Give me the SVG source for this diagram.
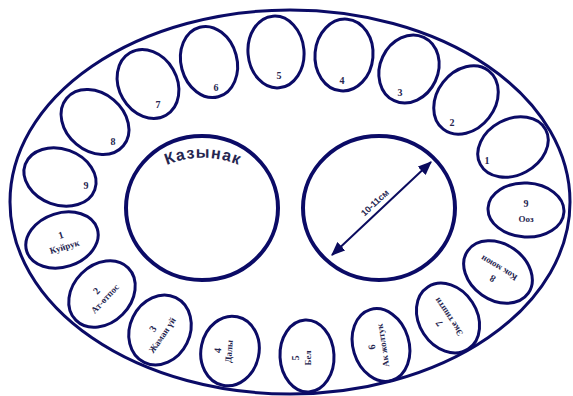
<svg xmlns="http://www.w3.org/2000/svg" width="573" height="396" viewBox="0 0 573 396">
<defs>
<style>
.o{fill:none;stroke:#0b0b66;stroke-width:3}
.big{fill:none;stroke:#0b0b66;stroke-width:4}
.n{font-family:"Liberation Serif",serif;font-weight:bold;font-size:10px;fill:#262650;text-anchor:middle}
.w{font-family:"Liberation Serif",serif;font-weight:bold;font-size:9px;fill:#262650;text-anchor:middle}
.k{font-family:"Liberation Sans",Arial,sans-serif;font-weight:bold;font-size:16px;fill:#262650}
.d{font-family:"Liberation Sans",Arial,sans-serif;font-weight:bold;font-size:9px;fill:#262650;text-anchor:middle}
</style>
<marker id="ah2" viewBox="0 0 12 10" refX="11" refY="5" markerWidth="14" markerHeight="12" orient="auto-start-reverse" markerUnits="userSpaceOnUse">
<path d="M0,0 L12,5 L0,10 Z" fill="#0b0b5e"/>
</marker>
<path id="arcK" d="M148,176 A92,92 0 0 1 258,176"/>
</defs>
<g id="board">
<ellipse class="o" cx="290" cy="202" rx="280" ry="192"/>
</g>
<g id="kazynak">
<ellipse class="big" cx="202" cy="208" rx="76" ry="72"/>
<text class="k" letter-spacing="1"><textPath href="#arcK" startOffset="50%" text-anchor="middle">Казынак</textPath></text>
</g>
<g id="measure">
<ellipse class="big" cx="379" cy="208" rx="76" ry="72"/>
</g>
<g id="connectors">
<line x1="332" y1="255" x2="431" y2="162" stroke="#0b0b5e" stroke-width="2" marker-start="url(#ah2)" marker-end="url(#ah2)"/>
<text class="d" transform="translate(377,205) rotate(-43)">10-11см</text>
</g>
<g id="top9"><ellipse class="o" cx="60" cy="177" rx="37" ry="28" transform="rotate(20 60 177)"/><text class="n" x="86" y="189">9</text></g>
<g id="top8"><ellipse class="o" cx="95" cy="122" rx="37" ry="29" transform="rotate(40 95 122)"/><text class="n" x="113" y="145">8</text></g>
<g id="top7"><ellipse class="o" cx="148" cy="84" rx="29" ry="36" transform="rotate(-30 148 84)"/><text class="n" x="158" y="108">7</text></g>
<g id="top6"><ellipse class="o" cx="209" cy="62" rx="28" ry="36" transform="rotate(-15 209 62)"/><text class="n" x="216" y="91">6</text></g>
<g id="top5"><ellipse class="o" cx="276" cy="52" rx="28" ry="36" transform="rotate(-5 276 52)"/><text class="n" x="279" y="79">5</text></g>
<g id="top4"><ellipse class="o" cx="344" cy="55" rx="29" ry="36" transform="rotate(5 344 55)"/><text class="n" x="342" y="84">4</text></g>
<g id="top3"><ellipse class="o" cx="409" cy="69" rx="29" ry="35" transform="rotate(25 409 69)"/><text class="n" x="400" y="96">3</text></g>
<g id="top2"><ellipse class="o" cx="466" cy="100" rx="29" ry="37" transform="rotate(38 466 100)"/><text class="n" x="452" y="126">2</text></g>
<g id="top1"><ellipse class="o" cx="513" cy="147" rx="37" ry="28" transform="rotate(-28 513 147)"/><text class="n" x="487" y="164">1</text></g>
<g id="bot9"><ellipse class="o" cx="526" cy="210" rx="38" ry="27" transform="rotate(3 526 210)"/><text class="n" x="526" y="207">9</text><text class="w" x="526" y="222">Ооз</text></g>
<g id="bot8"><ellipse class="o" cx="498" cy="272" rx="37" ry="28" transform="rotate(35 498 272)"/><g transform="translate(499,268) rotate(211)"><text class="n" x="0" y="-9">8</text><text class="w" x="0" y="3">Кок моюн</text></g></g>
<g id="bot7"><ellipse class="o" cx="448" cy="318" rx="37" ry="29" transform="rotate(57 448 318)"/><g transform="translate(447,318) rotate(236)"><text class="n" x="0" y="-6">7</text><text class="w" x="0" y="5">Эке тишти</text></g></g>
<g id="bot6"><ellipse class="o" cx="381" cy="345" rx="28" ry="37" transform="rotate(-17 381 345)"/><g transform="translate(379,346) rotate(-99)"><text class="n" x="0" y="-4">6</text><text class="w" x="0" y="7">Ак жолтук</text></g></g>
<g id="bot5"><ellipse class="o" cx="307" cy="356" rx="27" ry="36" transform="rotate(-3 307 356)"/><g transform="translate(303,358) rotate(-90)"><text class="n" x="0" y="-4">5</text><text class="w" x="0" y="8">Бел</text></g></g>
<g id="bot4"><ellipse class="o" cx="230" cy="351" rx="29" ry="35" transform="rotate(12 230 351)"/><g transform="translate(225,351) rotate(-85)"><text class="n" x="0" y="-4">4</text><text class="w" x="0" y="7">Далы</text></g></g>
<g id="bot3"><ellipse class="o" cx="160" cy="330" rx="30" ry="36" transform="rotate(26 160 330)"/><g transform="translate(159,333) rotate(-56)"><text class="n" x="0" y="-4">3</text><text class="w" x="0" y="7">Жаман үй</text></g></g>
<g id="bot2"><ellipse class="o" cx="102" cy="294" rx="37" ry="29" transform="rotate(-45 102 294)"/><g transform="translate(102,296) rotate(-47)"><text class="n" x="0" y="-4">2</text><text class="w" x="0" y="7">Ат-өтпос</text></g></g>
<g id="bot1"><ellipse class="o" cx="62" cy="240" rx="37" ry="27" transform="rotate(-18 62 240)"/><g transform="translate(63,242) rotate(-17)"><text class="n" x="0" y="-4">1</text><text class="w" x="0" y="8">Куйрук</text></g></g>
</svg>
